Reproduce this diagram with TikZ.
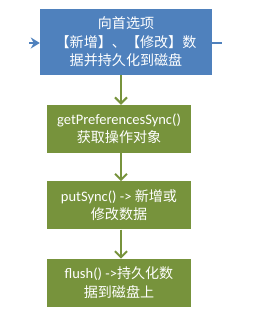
\documentclass[tikz,border=0pt]{standalone}
\usepackage{fontspec}
\setmainfont{Carlito}
\newfontfamily\cjk[Scale=0.97]{Noto Sans CJK SC}
\usetikzlibrary{arrows.meta, positioning, calc}
\definecolor{topblue}{HTML}{4F81BD}
\definecolor{stepgreen}{HTML}{77933C}

\begin{document}
\begin{tikzpicture}[
    x=1pt, y=1pt,
    font=\fontsize{14.5}{18.5}\selectfont,
    topbox/.style={rectangle, fill=topblue, text=white, minimum width=172pt, minimum height=66pt, align=center, inner sep=2pt},
    stepbox/.style={rectangle, fill=stepgreen, text=white, minimum width=144pt, minimum height=48pt, align=center, inner sep=2pt},
    arrow/.style={-{Straight Barb[length=6pt, width=12pt, line width=2pt]}, line width=2.4pt, color=stepgreen},
    bluearrow/.style={-{Stealth[length=9pt, width=11pt]}, line width=2.4pt, color=topblue}
]
    \useasboundingbox (0,0) rectangle (264,-336);
    \node[topbox] (top) at (126,-42) {{\cjk 向首选项}\\{\cjk 【新增】、【修改】数}\\{\cjk 据并持久化到磁盘}};
    \node[stepbox] (step1) at (119,-129) {getPreferencesSync()\\{\cjk 获取操作对象}};
    \node[stepbox, below=28pt of step1] (step2) {putSync() -> {\cjk 新增或}\\{\cjk 修改数据}};
    \node[stepbox, below=29pt of step2] (step3) {flush() ->{\cjk 持久化数}\\{\cjk 据到磁盘上}};

    \coordinate (inlet) at (29,-43);
    \coordinate (outlet) at (222,-43);
    \draw[bluearrow] (inlet) -- (top.west |- inlet);
    \draw[line width=2.4pt, topblue] (top.east |- outlet) -- (outlet);

    \draw[arrow] ([xshift=2pt]step1.north |- top.south) -- ([xshift=2pt]step1.north);
    \draw[arrow] ([xshift=2pt]step1.south) -- ([xshift=2pt]step2.north);
    \draw[arrow] ([xshift=2pt]step2.south) -- ([xshift=2pt]step3.north);
\end{tikzpicture}
\end{document}
